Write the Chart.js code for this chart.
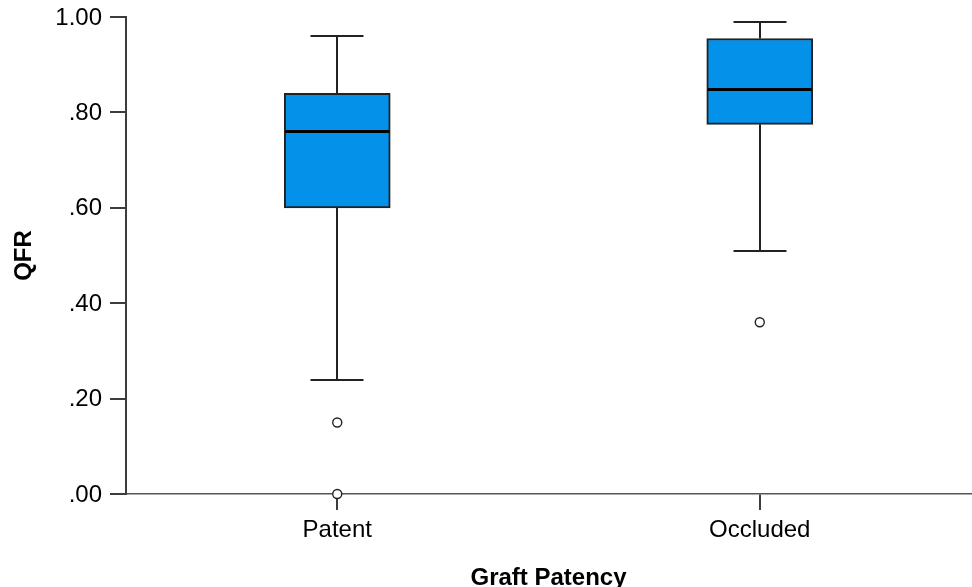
<!DOCTYPE html>
<html>
<head>
<meta charset="utf-8">
<script src="https://cdn.jsdelivr.net/npm/chart.js@4/dist/chart.umd.min.js"></script>
<style>
  html, body { margin: 0; padding: 0; background: #fff; }
  #wrap { width: 972px; height: 587px; position: relative; }
</style>
</head>
<body>
<div id="wrap"><canvas id="c" width="972" height="587"></canvas></div>
<script>
const categories = ['Patent', 'Occluded'];
const whiskerMax = [0.96, 0.99];
const q3Values = [0.84, 0.955];
const medianValues = [0.76, 0.85];
const q1Values = [0.60, 0.775];
const whiskerMin = [0.24, 0.51];
const patentOutliers = [0.15, 0.00];
const occludedOutliers = [0.36];
const yTickValues = [0, 0.2, 0.4, 0.6, 0.8, 1.0];
const yTickLabels = ['.00', '.20', '.40', '.60', '.80', '1.00'];

const LINE = '#222222';
const AXIS = '#3c3c3c';
const BOX_WIDTH = 106;
const CAP_WIDTH = 53;

const outlierPoints = [];
patentOutliers.forEach(v => outlierPoints.push({ x: categories[0], y: v }));
occludedOutliers.forEach(v => outlierPoints.push({ x: categories[1], y: v }));

const boxPlugin = {
  id: 'boxParts',
  beforeDatasetsDraw(chart) {
    const { ctx, scales: { x, y } } = chart;
    ctx.save();
    ctx.strokeStyle = LINE;
    ctx.lineWidth = 2;
    categories.forEach((c, i) => {
      const cx = Math.round(x.getPixelForValue(i));
      const yMax = Math.round(y.getPixelForValue(whiskerMax[i]));
      const yQ3 = y.getPixelForValue(q3Values[i]);
      const yQ1 = y.getPixelForValue(q1Values[i]);
      const yMin = Math.round(y.getPixelForValue(whiskerMin[i]));
      ctx.beginPath();
      ctx.moveTo(cx, yQ3); ctx.lineTo(cx, yMax);
      ctx.moveTo(cx - CAP_WIDTH / 2, yMax); ctx.lineTo(cx + CAP_WIDTH / 2, yMax);
      ctx.moveTo(cx, yQ1); ctx.lineTo(cx, yMin);
      ctx.moveTo(cx - CAP_WIDTH / 2, yMin); ctx.lineTo(cx + CAP_WIDTH / 2, yMin);
      ctx.stroke();
    });
    ctx.restore();
  },
  afterDatasetsDraw(chart) {
    const { ctx, scales: { x, y } } = chart;
    ctx.save();
    ctx.strokeStyle = '#000';
    ctx.lineWidth = 3;
    categories.forEach((c, i) => {
      const cx = x.getPixelForValue(i);
      const ym = Math.round(y.getPixelForValue(medianValues[i])) + 0.5;
      ctx.beginPath();
      ctx.moveTo(cx - BOX_WIDTH / 2 + 1, ym);
      ctx.lineTo(cx + BOX_WIDTH / 2 - 1, ym);
      ctx.stroke();
    });
    ctx.restore();
  }
};

new Chart(document.getElementById('c'), {
  type: 'bar',
  data: {
    labels: categories,
    datasets: [
      {
        type: 'bar',
        data: categories.map((c, i) => [q1Values[i], q3Values[i]]),
        backgroundColor: '#0391E9',
        borderColor: LINE,
        borderWidth: 2,
        borderSkipped: false,
        barThickness: BOX_WIDTH,
        order: 2
      },
      {
        type: 'scatter',
        data: outlierPoints,
        pointRadius: 4.5,
        pointStyle: 'circle',
        backgroundColor: '#ffffff',
        borderColor: LINE,
        borderWidth: 1.4,
        clip: false,
        order: 1
      }
    ]
  },
  options: {
    responsive: false,
    animation: false,
    events: [],
    layout: { autoPadding: false, padding: { top: 17, right: 1, bottom: 0, left: 0 } },
    plugins: { legend: { display: false }, tooltip: { enabled: false } },
    scales: {
      x: {
        type: 'category',
        offset: true,
        afterFit(scale) { scale.height = 93; scale.paddingLeft = 0; scale.paddingRight = 0; },
        grid: { offset: false, drawOnChartArea: false, drawTicks: true, tickLength: 16, color: AXIS, lineWidth: 2 },
        border: { display: true, color: '#555', width: 1.5 },
        ticks: { color: '#000', padding: 6, font: { family: 'Liberation Sans, Arial, sans-serif', size: 24 } },
        title: {
          display: true,
          text: 'Graft Patency',
          color: '#000',
          padding: 0,
          font: { family: 'Liberation Sans, Arial, sans-serif', size: 24, weight: 'bold', lineHeight: 0.7 }
        }
      },
      y: {
        type: 'linear',
        min: 0,
        max: 1,
        afterFit(scale) { scale.width = 126; scale.paddingTop = 0; scale.paddingBottom = 0; },
        afterBuildTicks(scale) { scale.ticks = yTickValues.map(v => ({ value: v })); },
        grid: { drawOnChartArea: false, drawTicks: true, tickLength: 16, color: AXIS, lineWidth: 2 },
        border: { display: true, color: AXIS, width: 2 },
        ticks: {
          color: '#000',
          padding: 8,
          labelOffset: 1,
          font: { family: 'Liberation Sans, Arial, sans-serif', size: 24 },
          callback(value, index) { return yTickLabels[index]; }
        },
        title: {
          display: true,
          text: 'QFR',
          color: '#000',
          padding: { top: 16, bottom: 0 },
          font: { family: 'Liberation Sans, Arial, sans-serif', size: 24, weight: 'bold', lineHeight: 0.7 }
        }
      }
    }
  },
  plugins: [boxPlugin]
});
</script>
</body>
</html>
